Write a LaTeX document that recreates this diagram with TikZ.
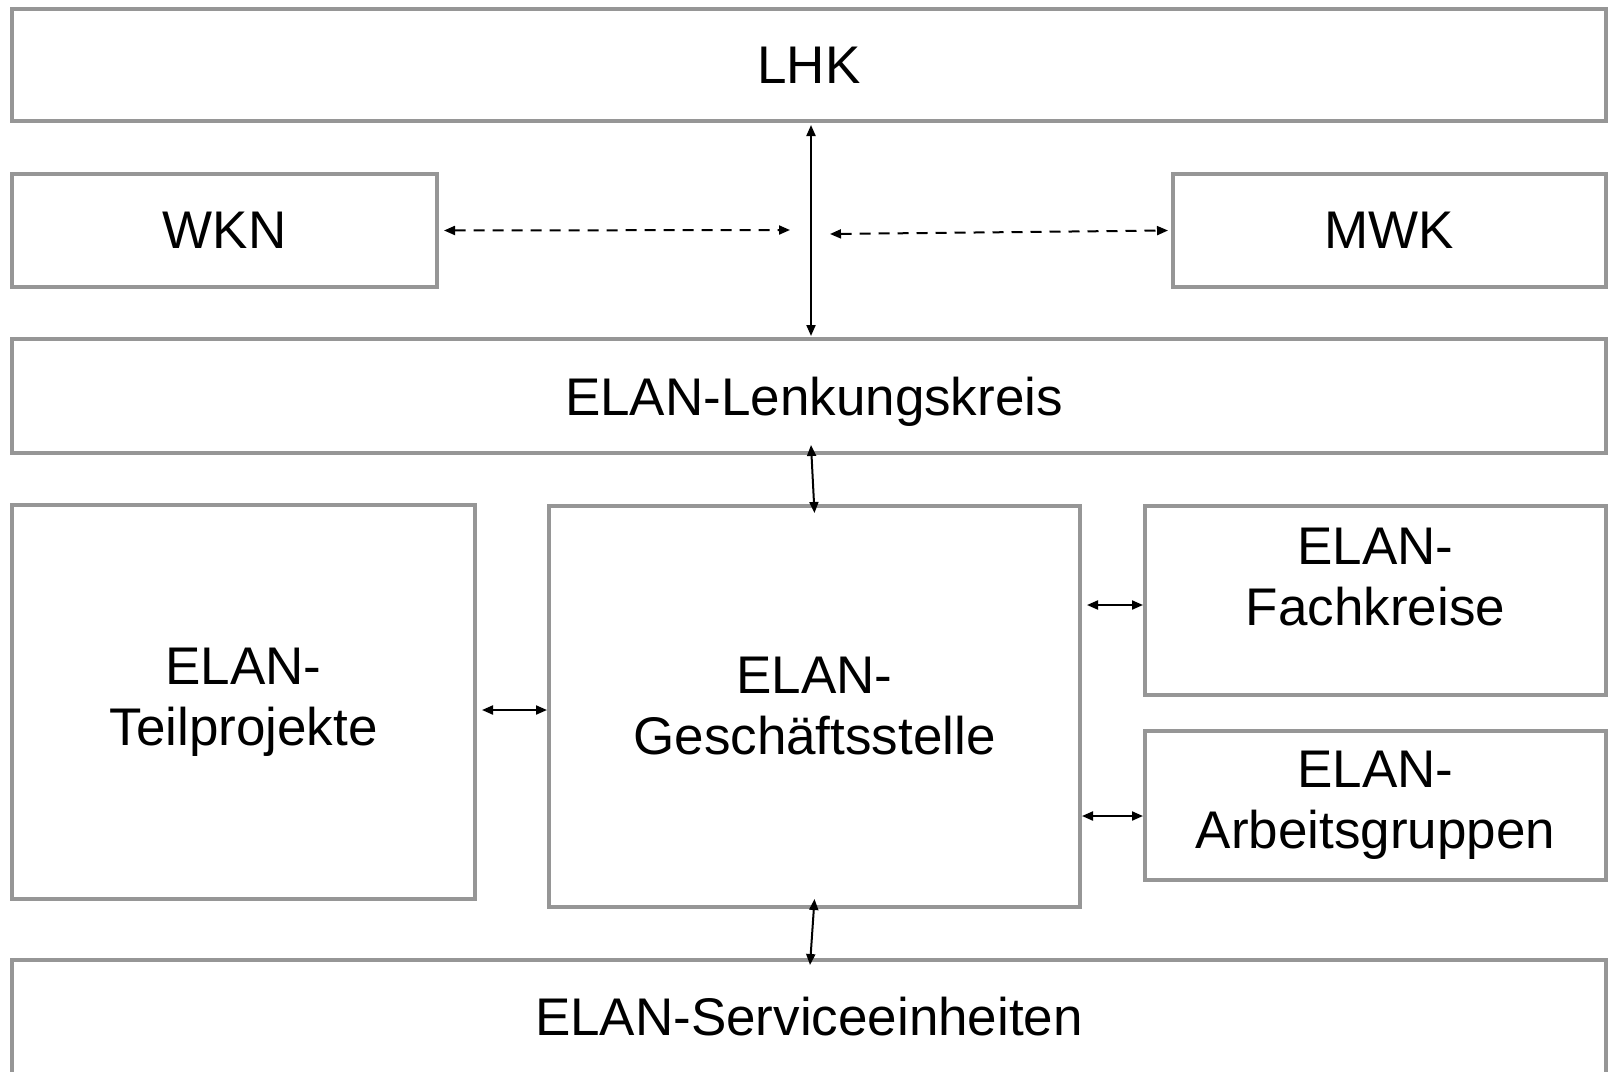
\documentclass[tikz,border=0pt]{standalone}
\usepackage{fontspec}
\setmainfont{Liberation Sans}
\usetikzlibrary{arrows.meta}
\definecolor{BoxGray}{RGB}{150,150,150}

\begin{document}
\begin{tikzpicture}[x=1pt,y=-1pt]
  \tikzset{BoxStyle/.style = {
    shape         = rectangle,
    draw          = BoxGray,
    fill          = white,
    line width    = 4pt,
    text          = black,
    align         = center,
    inner sep     = 0pt,
    font          = \fontsize{53}{61}\selectfont
    }
  }
  \tikzset{ArrowStyle/.style = {
    draw          = black,
    line width    = 2pt,
    {Triangle[length=11pt,width=9pt]}-{Triangle[length=11pt,width=9pt]}
    }
  }
  \tikzset{DashedArrowStyle/.style = {
    ArrowStyle,
    dash pattern  = on 11pt off 8pt
    }
  }

  \useasboundingbox (0,0) rectangle (1608,1071);
  \fill[white] (0,0) rectangle (1608,1071);
  \clip (0,0) rectangle (1608,1071);

	\node[BoxStyle, minimum width=1594pt, minimum height=112pt](LHK) at (809, 65) {LHK};
	\node[BoxStyle, minimum width=425pt, minimum height=113pt](WKN) at (224.5, 230.5) {WKN};
	\node[BoxStyle, minimum width=433pt, minimum height=113pt](MWK) at (1389.5, 230.5) {MWK};
	\node[BoxStyle, minimum width=1594pt, minimum height=114pt,
	  label={[font=\fontsize{53}{61}\selectfont, xshift=5pt, yshift=-6pt]center:ELAN-Lenkungskreis}](Lenk) at (809, 396) {};
	\node[BoxStyle, minimum width=463pt, minimum height=394pt](Teil) at (243.5, 702) {ELAN-\\Teilprojekte};
	\node[BoxStyle, minimum width=531pt, minimum height=401pt](Gesch) at (814.5, 706.5) {ELAN-\\Geschäftsstelle};
	\node[BoxStyle, minimum width=461pt, minimum height=189pt,
	  label={[align=center, font=\fontsize{53}{61}\selectfont, yshift=23pt]center:ELAN-\\Fachkreise}](Fach) at (1375.5, 600.5) {};
	\node[BoxStyle, minimum width=461pt, minimum height=149pt](Arb) at (1375.5, 805.5) {ELAN-\\Arbeitsgruppen};
	\node[BoxStyle, minimum width=1594pt, minimum height=114pt](Serv) at (809, 1017) {ELAN-Serviceeinheiten};

	\coordinate (LHKl) at (790, 230);
	\coordinate (LHKr) at (830, 234);

	\draw[ArrowStyle]([xshift=2pt,yshift=-2pt]LHK.south) -- ([xshift=2pt,yshift=1pt]Lenk.north);
	\draw[DashedArrowStyle]([xshift=5pt]WKN.east) -- (LHKl);
	\draw[DashedArrowStyle](LHKr) -- ([xshift=-3pt]MWK.west);
	\draw[ArrowStyle]([xshift=2pt,yshift=10pt]Lenk.south) -- ([yshift=-9pt]Gesch.north);
	\draw[ArrowStyle]([xshift=5pt,yshift=-8pt]Teil.east) -- ([yshift=-3.5pt]Gesch.west);
	\draw[ArrowStyle]([xshift=5pt,yshift=101.5pt]Gesch.east) -- ([yshift=-4.5pt]Fach.west);
	\draw[ArrowStyle]([yshift=-109.5pt]Gesch.east) -- ([yshift=-10.5pt]Arb.west);
	\draw[ArrowStyle]([yshift=10pt]Gesch.south) -- ([xshift=1pt,yshift=-7pt]Serv.north);

\end{tikzpicture}
\end{document}
